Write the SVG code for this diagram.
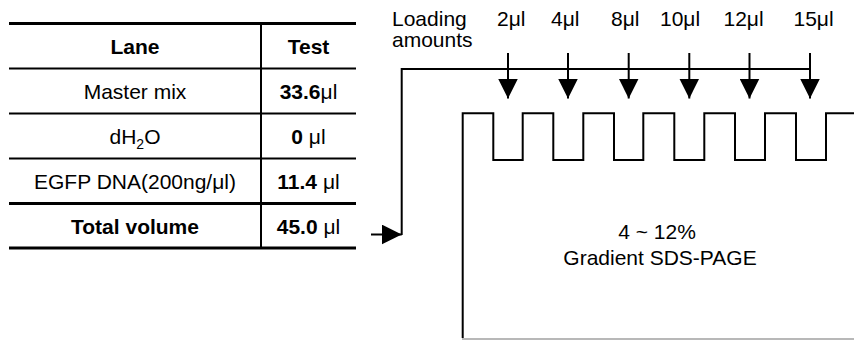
<svg xmlns="http://www.w3.org/2000/svg" width="854" height="340" viewBox="0 0 854 340">
<style>
text{font-family:"Liberation Sans",Arial,sans-serif;font-size:21px;fill:#000}
.c{text-anchor:middle}
.b{font-weight:bold}
.ln{stroke:#000;fill:none;stroke-width:2}
.thick{stroke:#000;stroke-width:3}
.thin{stroke:#000;stroke-width:2}
</style>
<defs>
<marker id="ah" markerWidth="20" markerHeight="20" refX="20" refY="10" orient="auto" markerUnits="userSpaceOnUse">
<path d="M0,0 L20,10 L0,20 Z" fill="#000"/>
</marker>
</defs>
<g id="table">
<line class="thick" x1="9" y1="23.5" x2="356" y2="23.5"/>
<line class="thin" x1="9" y1="68.5" x2="356" y2="68.5"/>
<line class="thin" x1="9" y1="113.5" x2="356" y2="113.5"/>
<line class="thin" x1="9" y1="158.5" x2="356" y2="158.5"/>
<line class="thick" x1="9" y1="203.5" x2="356" y2="203.5"/>
<line class="thick" x1="9" y1="248" x2="356" y2="248"/>
<line class="thin" x1="261" y1="23" x2="261" y2="248"/>
<text class="c b" x="135" y="53.5">Lane</text>
<text class="c b" x="308.5" y="53.5">Test</text>
<text class="c" x="135" y="98.5">Master mix</text>
<text class="c" x="308.5" y="98.5"><tspan class="b">33.6</tspan>μl</text>
<text class="c" x="135" y="143.5">dH<tspan font-size="14" dy="5">2</tspan><tspan dy="-5">O</tspan></text>
<text class="c" x="308.5" y="143.5"><tspan class="b">0</tspan> μl</text>
<text class="c" x="135" y="188.5">EGFP DNA(200ng/μl)</text>
<text class="c" x="308.5" y="188.5"><tspan class="b">11.4</tspan> μl</text>
<text class="c b" x="135" y="233.5">Total volume</text>
<text class="c" x="308.5" y="233.5"><tspan class="b">45.0</tspan> μl</text>
</g>
<g id="labels">
<text x="392" y="26">Loading</text>
<text x="392" y="47">amounts</text>
<text x="497" y="26">2μl</text>
<text x="551" y="26">4μl</text>
<text x="611" y="26">8μl</text>
<text x="660" y="26">10μl</text>
<text x="723.5" y="26">12μl</text>
<text x="793.5" y="26">15μl</text>
</g>
<g id="gel">
<path class="ln" d="M462.7,338 V113.3 H493.3 V160 H522.7 V113.3 H553.3 V160 H583.3 V113.3 H614 V160 H643.3 V113.3 H674.3 V160 H704.3 V113.3 H735 V160 H765 V113.3 H796 V160 H826 V113.3 H854"/>
<line x1="462" y1="339" x2="854" y2="339" stroke="#b8b8b8" stroke-width="2"/>
<text class="c" x="657" y="239">4 ~ 12%</text>
<text class="c" x="660" y="265">Gradient SDS-PAGE</text>
</g>
<g id="connectors">
<path class="ln" d="M810,69 H401.7 V235"/>
<line class="ln" x1="371" y1="234.5" x2="401.7" y2="234.5" marker-end="url(#ah)"/>
<line class="ln" x1="508" y1="53" x2="508" y2="98.5" marker-end="url(#ah)"/>
<line class="ln" x1="568" y1="53" x2="568" y2="98.5" marker-end="url(#ah)"/>
<line class="ln" x1="628.7" y1="53" x2="628.7" y2="98.5" marker-end="url(#ah)"/>
<line class="ln" x1="689.3" y1="53" x2="689.3" y2="98.5" marker-end="url(#ah)"/>
<line class="ln" x1="749.5" y1="53" x2="749.5" y2="98.5" marker-end="url(#ah)"/>
<line class="ln" x1="810" y1="53" x2="810" y2="98.5" marker-end="url(#ah)"/>
</g>
</svg>
